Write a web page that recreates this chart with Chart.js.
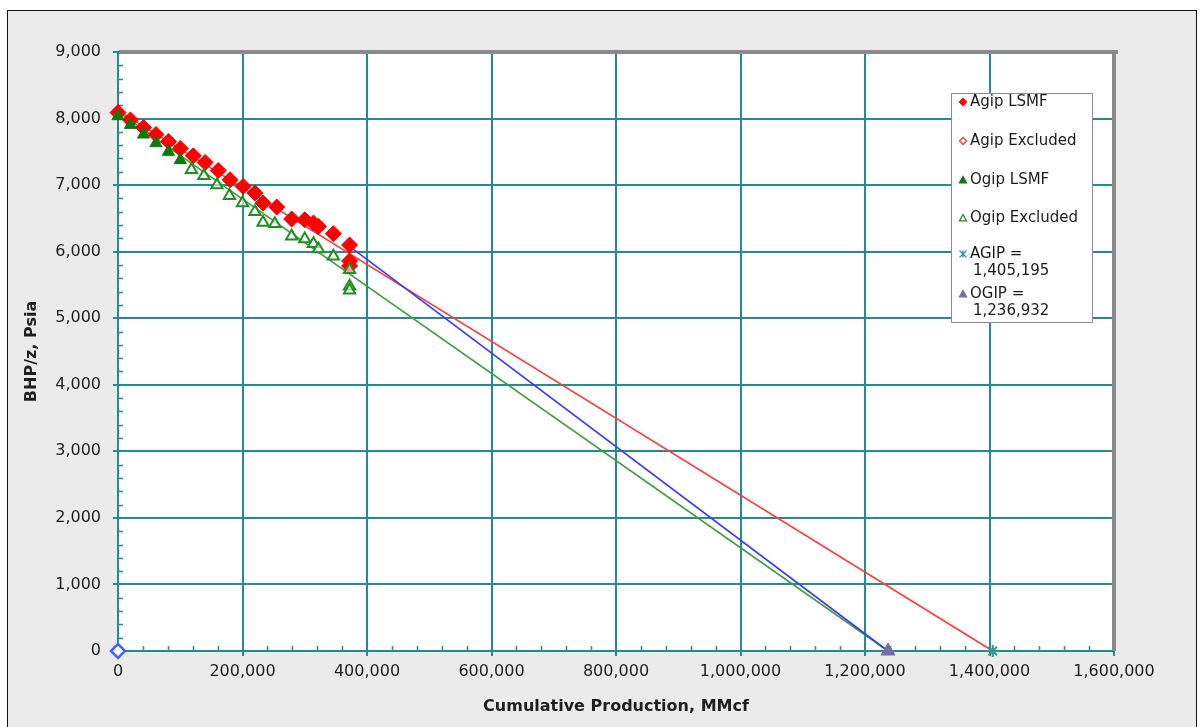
<!DOCTYPE html>
<html>
<head>
<meta charset="utf-8">
<script src="https://cdn.jsdelivr.net/npm/chart.js@4.4.0/dist/chart.umd.min.js"></script>
<style>
    html, body { margin: 0; padding: 0; background: #fff; }
    #pzChart { display: block; }
</style>
</head>
<body>
<canvas id="pzChart" width="1203" height="727"></canvas>
<script>
// Agip LSMF points (cumulative MMcf, BHP/z psia)
const agipCum = [0, 20000, 41000, 61000, 81000, 100000, 121000, 140000, 161000, 180000, 201000, 220000, 233000, 255000, 279000, 300000, 314000, 322000, 346000, 372000, 372000, 372000];
const agipPz = [8090, 7980, 7865, 7760, 7655, 7550, 7440, 7340, 7220, 7080, 6980, 6880, 6730, 6670, 6490, 6480, 6430, 6380, 6270, 6100, 5860, 5785];

// Ogip LSMF points
const ogipCum = [0, 20000, 41000, 61000, 81000, 100000];
const ogipPz = [8035, 7905, 7760, 7630, 7500, 7375];

// Ogip excluded points
const ogipExCum = [118000, 138000, 159000, 179000, 200000, 220000, 233000, 252000, 279000, 300000, 314000, 322000, 346000, 372000, 372000, 372000];
const ogipExPz = [7230, 7140, 7000, 6840, 6730, 6600, 6440, 6420, 6230, 6190, 6120, 6040, 5930, 5730, 5480, 5420];

// fitted lines
const agipLineCum = [0, 1405195];
const agipLinePz = [8120, 0];
const ogipLineCum = [0, 1236932];
const ogipLinePz = [8100, 0];
const blueLineCum = [372000, 1236932];
const blueLinePz = [6080, 0];

// single markers
const originCum = [0];
const originPz = [0];
const agipValue = 1405195;
const ogipValue = 1236932;

const xTicks = { min: 0, max: 1600000, step: 200000, minor: 40000 };
const yTicks = { min: 0, max: 9000, step: 1000, minor: 200 };

const TEAL = '#238c8c';
const FONT = 'DejaVu Sans';

const pts = (xs, ys) => xs.map((x, i) => ({ x: x, y: ys[i] }));
const fmt = v => String(v).replace(/\B(?=(\d{3})+(?!\d))/g, ',');

document.addEventListener('DOMContentLoaded', () => {
    const canvas = document.getElementById('pzChart');

    // grey frame, white plot area
    const backdrop = {
        id: 'backdrop',
        beforeDraw(chart) {
            const ctx = chart.ctx;
            const a = chart.chartArea;
            ctx.save();
            ctx.fillStyle = '#ffffff';
            ctx.fillRect(0, 0, chart.width, chart.height);
            ctx.fillStyle = '#ebebeb';
            ctx.fillRect(7, 10, 1190, 730);
            ctx.strokeStyle = '#111';
            ctx.lineWidth = 1;
            ctx.strokeRect(7.5, 10.5, 1189, 730);
            ctx.fillStyle = '#ffffff';
            ctx.fillRect(a.left, a.top, a.right - a.left, a.bottom - a.top);
            ctx.restore();
        },
        beforeDatasetsDraw(chart) {
            // shadow edge on top and right of plot area, plus inner minor ticks
            const ctx = chart.ctx;
            const a = chart.chartArea;
            const xs = chart.scales.x;
            const ys = chart.scales.y;
            ctx.save();
            ctx.fillStyle = '#8a8a8a';
            ctx.fillRect(a.left + 1, a.top - 2, a.right - a.left + 3, 4);
            ctx.fillRect(a.right - 2, a.top - 2, 4, a.bottom - a.top + 2);
            ctx.strokeStyle = TEAL;
            ctx.lineWidth = 1.5;
            ctx.beginPath();
            for (let v = xTicks.min; v <= xTicks.max; v += xTicks.minor) {
                if (v % xTicks.step === 0) continue;
                const px = Math.round(xs.getPixelForValue(v)) + 0.5;
                ctx.moveTo(px, a.bottom);
                ctx.lineTo(px, a.bottom - 5);
            }
            for (let v = yTicks.min; v <= yTicks.max; v += yTicks.minor) {
                if (v % yTicks.step === 0) continue;
                const py = Math.round(ys.getPixelForValue(v)) + 0.5;
                ctx.moveTo(a.left, py);
                ctx.lineTo(a.left + 5, py);
            }
            ctx.stroke();
            ctx.restore();
        }
    };

    // legend box drawn inside plot area
    const drawMarker = (ctx, kind, x, y, fill, stroke, r) => {
        ctx.beginPath();
        if (kind === 'diamond') {
            ctx.moveTo(x, y - r); ctx.lineTo(x + r, y); ctx.lineTo(x, y + r); ctx.lineTo(x - r, y);
            ctx.closePath();
        } else if (kind === 'triangle') {
            ctx.moveTo(x, y - r); ctx.lineTo(x + r, y + r * 0.8); ctx.lineTo(x - r, y + r * 0.8);
            ctx.closePath();
        } else if (kind === 'star') {
            ctx.moveTo(x - r, y - r); ctx.lineTo(x + r, y + r);
            ctx.moveTo(x + r, y - r); ctx.lineTo(x - r, y + r);
            ctx.moveTo(x, y - r); ctx.lineTo(x, y + r);
        }
        if (fill) { ctx.fillStyle = fill; ctx.fill(); }
        if (stroke) { ctx.strokeStyle = stroke; ctx.lineWidth = 1.3; ctx.stroke(); }
    };

    const legendItems = [
        { kind: 'diamond', fill: '#ff0000', stroke: '#ff0000', y: 102, lines: ['Agip LSMF'] },
        { kind: 'diamond', fill: '#ffffff', stroke: '#ff3333', y: 141, lines: ['Agip Excluded'] },
        { kind: 'triangle', fill: '#0a7a0a', stroke: '#0a7a0a', y: 180, lines: ['Ogip LSMF'] },
        { kind: 'triangle', fill: '#ffffff', stroke: '#1f8f1f', y: 218, lines: ['Ogip Excluded'] },
        { kind: 'star', fill: null, stroke: '#2a9a9a', y: 254, lines: ['AGIP =', fmt(agipValue)] },
        { kind: 'triangle', fill: '#6f6fa8', stroke: '#6f6fa8', y: 294, lines: ['OGIP =', fmt(ogipValue)] }
    ];

    const boxLegend = {
        id: 'boxLegend',
        afterDraw(chart) {
            const ctx = chart.ctx;
            ctx.save();
            ctx.fillStyle = '#ffffff';
            ctx.fillRect(951, 93, 141, 229);
            ctx.strokeStyle = '#8c8c8c';
            ctx.lineWidth = 1;
            ctx.strokeRect(951.5, 93.5, 141, 229);
            ctx.font = '15px "' + FONT + '"';
            ctx.textBaseline = 'middle';
            ctx.textAlign = 'left';
            legendItems.forEach(item => {
                drawMarker(ctx, item.kind, 963, item.y, item.fill, item.stroke, 3.5);
                ctx.fillStyle = '#1a1a1a';
                item.lines.forEach((t, i) => {
                    ctx.fillText(t, i === 0 ? 970 : 973, item.y + i * 17);
                });
            });
            ctx.restore();
        }
    };

    new Chart(canvas, {
        type: 'scatter',
        data: {
            datasets: [
                {
                    label: 'Origin',
                    data: pts(originCum, originPz),
                    pointStyle: 'rectRot',
                    pointRadius: 7,
                    borderColor: '#3f63ff',
                    backgroundColor: '#ffffff',
                    pointBorderWidth: 2.5,
                    order: 0
                },
                {
                    label: 'OGIP',
                    data: [{ x: ogipValue, y: 0 }],
                    pointStyle: 'triangle',
                    pointRadius: 8,
                    borderColor: '#6f6fa8',
                    backgroundColor: '#6f6fa8',
                    order: 0
                },
                {
                    label: 'AGIP',
                    data: [{ x: agipValue, y: 0 }],
                    pointStyle: 'star',
                    pointRadius: 6,
                    borderColor: '#2a9a9a',
                    pointBorderWidth: 2,
                    order: 0
                },
                {
                    label: 'Ogip Excluded',
                    data: pts(ogipExCum, ogipExPz),
                    pointStyle: 'triangle',
                    pointRadius: 6.5,
                    borderColor: '#1f8f1f',
                    backgroundColor: 'rgba(255,255,255,0.6)',
                    pointBorderWidth: 2,
                    order: 1
                },
                {
                    label: 'Ogip LSMF',
                    data: pts(ogipCum, ogipPz),
                    pointStyle: 'triangle',
                    pointRadius: 7,
                    borderColor: '#0a7a0a',
                    backgroundColor: '#0a7a0a',
                    order: 2
                },
                {
                    label: 'Agip LSMF',
                    data: pts(agipCum, agipPz),
                    pointStyle: 'rectRot',
                    pointRadius: 8,
                    borderColor: '#ff0000',
                    backgroundColor: '#ff0000',
                    order: 3
                },
                {
                    label: 'Agip line',
                    data: pts(agipLineCum, agipLinePz),
                    showLine: true,
                    pointRadius: 0,
                    borderColor: '#ff3b3b',
                    borderWidth: 1.6,
                    order: 10
                },
                {
                    label: 'Ogip line',
                    data: pts(ogipLineCum, ogipLinePz),
                    showLine: true,
                    pointRadius: 0,
                    borderColor: '#3f9f3f',
                    borderWidth: 1.6,
                    order: 10
                },
                {
                    label: 'Blue line',
                    data: pts(blueLineCum, blueLinePz),
                    showLine: true,
                    pointRadius: 0,
                    borderColor: '#3a3aff',
                    borderWidth: 1.6,
                    order: 9
                }
            ]
        },
        options: {
            responsive: false,
            animation: false,
            devicePixelRatio: 1,
            clip: false,
            layout: { padding: { left: 0, top: 52, right: 89, bottom: 0 } },
            plugins: {
                legend: { display: false },
                tooltip: { enabled: false }
            },
            scales: {
                x: {
                    type: 'linear',
                    min: xTicks.min,
                    max: xTicks.max,
                    afterFit: s => { s.height = 76; },
                    ticks: {
                        stepSize: xTicks.step,
                        autoSkip: false,
                        maxRotation: 0,
                        padding: 6,
                        color: '#1e1e1e',
                        font: { family: FONT, size: 16 },
                        callback: v => fmt(v)
                    },
                    grid: { color: TEAL, lineWidth: 2, tickLength: 5, tickColor: TEAL },
                    border: { color: TEAL, width: 2 },
                    title: {
                        display: true,
                        text: 'Cumulative Production, MMcf',
                        color: '#1e1e1e',
                        font: { family: FONT, size: 16, weight: 'bold' },
                        padding: { top: 0, bottom: 11 }
                    }
                },
                y: {
                    type: 'linear',
                    min: yTicks.min,
                    max: yTicks.max,
                    afterFit: s => { s.width = 118; },
                    ticks: {
                        stepSize: yTicks.step,
                        padding: 12,
                        color: '#1e1e1e',
                        font: { family: FONT, size: 16 },
                        callback: v => fmt(v)
                    },
                    grid: { color: TEAL, lineWidth: 2, tickLength: 5, tickColor: TEAL },
                    border: { color: TEAL, width: 2 },
                    title: {
                        display: true,
                        text: 'BHP/z, Psia',
                        color: '#1e1e1e',
                        font: { family: FONT, size: 16, weight: 'bold' },
                        padding: { top: 22, bottom: 0 }
                    }
                }
            }
        },
        plugins: [backdrop, boxLegend]
    });
});
</script>
</body>
</html>
